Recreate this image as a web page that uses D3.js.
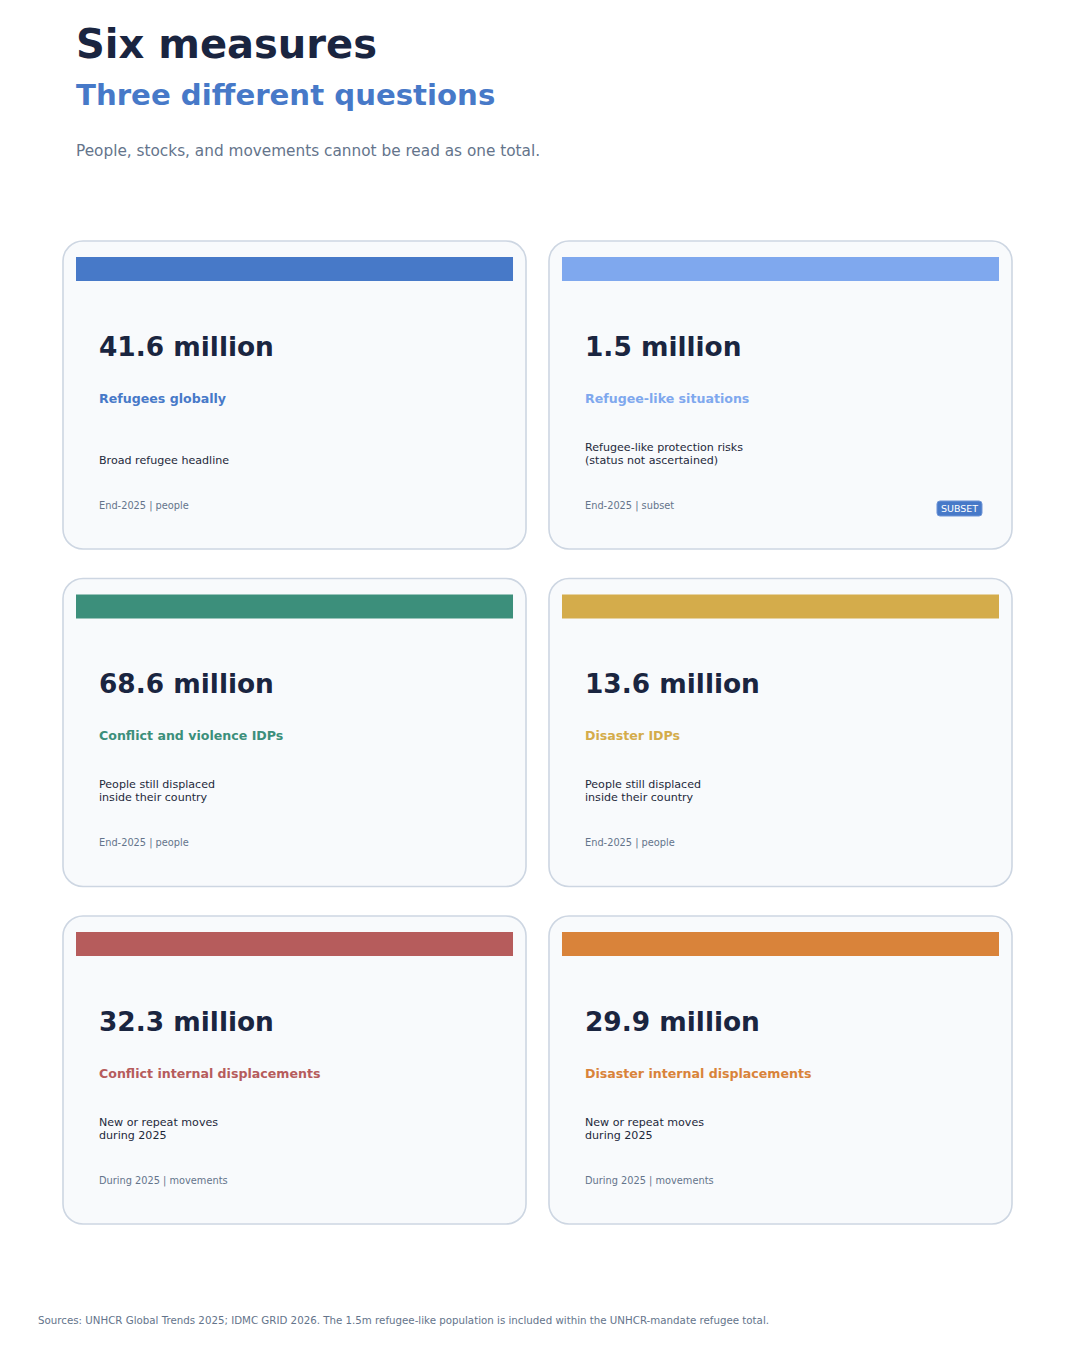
<!DOCTYPE html>
<html>
<head>
<meta charset="utf-8">
<script src="https://cdn.jsdelivr.net/npm/d3@7"></script>
<style>
  html, body { margin: 0; padding: 0; background: #ffffff; }
  svg text { font-family: "DejaVu Sans", sans-serif; }
</style>
</head>
<body>
<div id="chart"></div>
<script>
// measures shown on the cards
var values = [41.6, 1.5, 68.6, 13.6, 32.3, 29.9];
var labels = ["Refugees globally", "Refugee-like situations", "Conflict and violence IDPs",
              "Disaster IDPs", "Conflict internal displacements", "Disaster internal displacements"];
var descriptions = [
    ["Broad refugee headline"],
    ["Refugee-like protection risks", "(status not ascertained)"],
    ["People still displaced", "inside their country"],
    ["People still displaced", "inside their country"],
    ["New or repeat moves", "during 2025"],
    ["New or repeat moves", "during 2025"]
];
var metas = ["End-2025 | people", "End-2025 | subset", "End-2025 | people",
             "End-2025 | people", "During 2025 | movements", "During 2025 | movements"];
var badges = ["", "SUBSET", "", "", "", ""];
var palette = ["#4779c8", "#7fa8ee", "#3c8f7b", "#d4ac4b", "#b65c5c", "#d9833a"];

var width = 1080;
var height = 1350;

var svg = d3.select("#chart")
    .append("svg")
    .attr("width", width)
    .attr("height", height);

// title block
svg.append("text")
    .attr("x", 76)
    .attr("y", 58)
    .text("Six measures")
    .attr("fill", "#1a2540")
    .attr("font-size", "40px")
    .attr("font-weight", "bold");

svg.append("text")
    .attr("x", 76)
    .attr("y", 105)
    .text("Three different questions")
    .attr("fill", "#4779c8")
    .attr("font-size", "29.2px")
    .attr("font-weight", "bold");

svg.append("text")
    .attr("x", 76)
    .attr("y", 156)
    .text("People, stocks, and movements cannot be read as one total.")
    .attr("fill", "#64748b")
    .attr("font-size", "15.3px");

var cards = values.map(function (v, i) {
    return { i: i, value: v, label: labels[i], desc: descriptions[i], meta: metas[i], badge: badges[i] };
});

var col = d3.scaleBand().domain([0, 1]).range([63, 1012]).paddingInner(0.0473);
var row = d3.scaleBand().domain([0, 1, 2]).range([241, 1224]).paddingInner(0.0874);
var color = d3.scaleOrdinal().domain(labels).range(palette);
var fmt = d3.format(".1f");

var g = svg.selectAll("g.card")
    .data(cards)
    .enter()
    .append("g")
    .attr("class", "card")
    .attr("transform", function (d) {
        return "translate(" + col(d.i % 2) + "," + row(Math.floor(d.i / 2)) + ")";
    });

var cw = col.bandwidth();
var ch = row.bandwidth();

g.append("rect")
    .attr("x", 0)
    .attr("y", 0)
    .attr("width", cw)
    .attr("height", ch)
    .attr("rx", 20)
    .attr("fill", "#f8fafc")
    .attr("stroke", "#cdd6e2")
    .attr("stroke-width", 1.6);

g.append("rect")
    .attr("x", 13)
    .attr("y", 16)
    .attr("width", cw - 26)
    .attr("height", 24)
    .attr("fill", function (d) { return color(d.label); });

g.append("text")
    .attr("x", 36)
    .attr("y", 115)
    .text(function (d) { return fmt(d.value) + " million"; })
    .attr("fill", "#1a2540")
    .attr("font-size", "26.4px")
    .attr("font-weight", "bold");

g.append("text")
    .attr("x", 36)
    .attr("y", 162)
    .text(function (d) { return d.label; })
    .attr("fill", function (d) { return color(d.label); })
    .attr("font-size", "12.6px")
    .attr("font-weight", "bold");

// description lines, last line sits on a fixed baseline
g.each(function (d) {
    var n = d.desc.length;
    d3.select(this).selectAll("text.desc")
        .data(d.desc)
        .enter()
        .append("text")
        .attr("class", "desc")
        .attr("x", 36)
        .attr("y", function (t, j) { return 223 - (n - 1 - j) * 13; })
        .text(function (t) { return t; })
        .attr("fill", "#1e293b")
        .attr("font-size", "11.1px");
});

g.append("text")
    .attr("x", 36)
    .attr("y", 268)
    .text(function (d) { return d.meta; })
    .attr("fill", "#64748b")
    .attr("font-size", "9.8px");

var b = g.filter(function (d) { return d.badge !== ""; });

b.append("rect")
    .attr("x", 388)
    .attr("y", 260)
    .attr("width", 45)
    .attr("height", 15)
    .attr("rx", 3)
    .attr("fill", "#4779c8")
    .attr("stroke", "#6f95d6")
    .attr("stroke-width", 1);

b.append("text")
    .attr("x", 410.5)
    .attr("y", 271)
    .attr("text-anchor", "middle")
    .text(function (d) { return d.badge; })
    .attr("fill", "#ffffff")
    .attr("font-size", "9.5px");

svg.append("text")
    .attr("x", 38)
    .attr("y", 1324)
    .text("Sources: UNHCR Global Trends 2025; IDMC GRID 2026. The 1.5m refugee-like population is included within the UNHCR-mandate refugee total.")
    .attr("fill", "#64748b")
    .attr("font-size", "10.5px")
    .attr("textLength", 731)
    .attr("lengthAdjust", "spacingAndGlyphs");
</script>
</body>
</html>
